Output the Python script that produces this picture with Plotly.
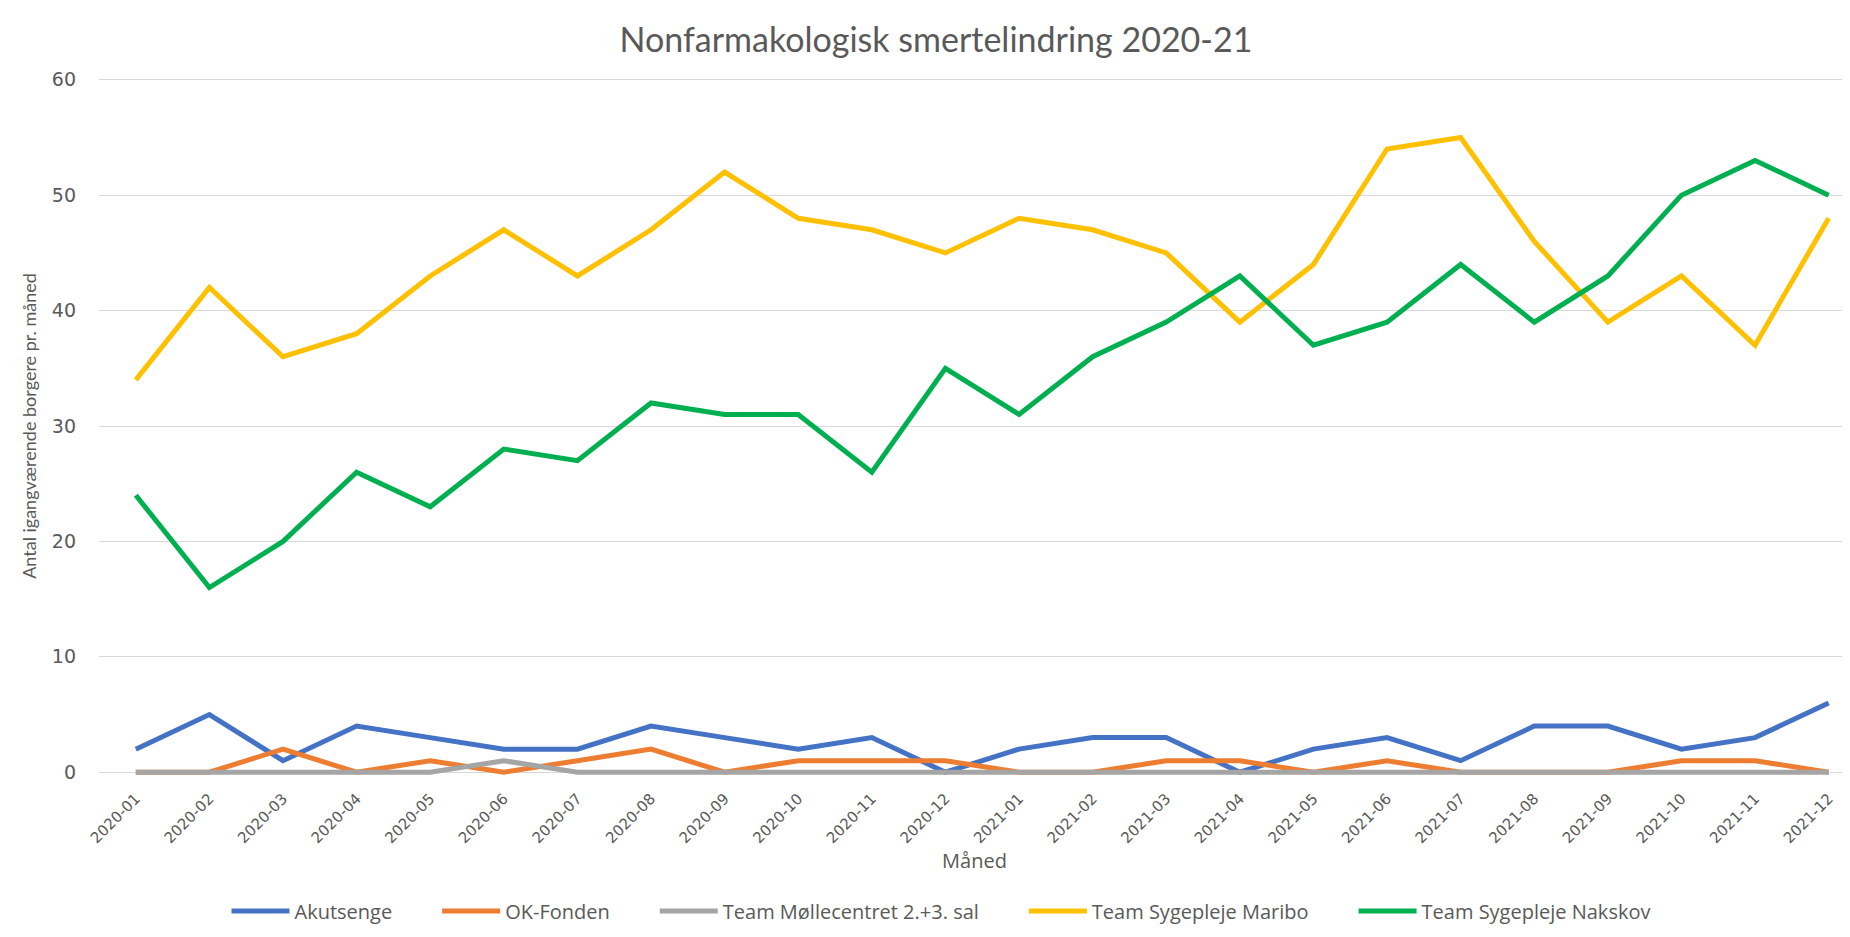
import plotly.graph_objects as go

months = ["2020-01","2020-02","2020-03","2020-04","2020-05","2020-06","2020-07","2020-08",
          "2020-09","2020-10","2020-11","2020-12","2021-01","2021-02","2021-03","2021-04",
          "2021-05","2021-06","2021-07","2021-08","2021-09","2021-10","2021-11","2021-12"]

akutsenge = [2,5,1,4,3,2,2,4,3,2,3,0,2,3,3,0,2,3,1,4,4,2,3,6]
ok_fonden = [0,0,2,0,1,0,1,2,0,1,1,1,0,0,1,1,0,1,0,0,0,1,1,0]
moellecentret = [0,0,0,0,0,1,0,0,0,0,0,0,0,0,0,0,0,0,0,0,0,0,0,0]
maribo = [34,42,36,38,43,47,43,47,52,48,47,45,48,47,45,39,44,54,55,46,39,43,37,48]
nakskov = [24,16,20,26,23,28,27,32,31,31,26,35,31,36,39,43,37,39,44,39,43,50,53,50]

series_names = ["Akutsenge", "OK-Fonden", "Team Møllecentret 2.+3. sal",
                "Team Sygepleje Maribo", "Team Sygepleje Nakskov"]
series_values = [akutsenge, ok_fonden, moellecentret, maribo, nakskov]
colors = ["#4472C4", "#ED7D31", "#A5A5A5", "#FFC000", "#00B050"]

fig = go.Figure()
n = len(series_names)
for i, (name, vals, col) in enumerate(zip(series_names, series_values, colors)):
    label = name if i == n - 1 else name + "\u2003\u2003"
    fig.add_trace(go.Scatter(x=months, y=vals, name=label, mode="lines",
                             line=dict(color=col, width=5)))

W, H = 1842, 929
grey = "#595959"
fig.update_layout(
    width=W, height=H,
    paper_bgcolor="white", plot_bgcolor="white",
    margin=dict(l=91, r=0, t=66, b=159),
    title=dict(text="Nonfarmakologisk smertelindring 2020-21",
               font=dict(family="Lato", size=34, color=grey),
               x=928 / W, xref="container", xanchor="center",
               y=1 - 32 / H, yanchor="middle"),
    legend=dict(orientation="h", xref="container", yref="container",
                x=933 / W, xanchor="center", y=1 - 903 / H, yanchor="middle",
                font=dict(family="Open Sans", size=20, color=grey),
                itemwidth=58),
    showlegend=True,
)
fig.update_xaxes(
    type="category", range=[-0.5, 23.29], automargin=False,
    tickangle=-45, tickfont=dict(family="DejaVu Sans", size=15, color=grey),
    ticklabelstandoff=8,
    showgrid=False, showline=False, zeroline=False,
    title=dict(text="Måned", font=dict(family="Open Sans", size=20, color=grey), standoff=0),
)
fig.update_yaxes(
    range=[-0.5, 60.5], tickvals=[0,10,20,30,40,50,60], automargin=False,
    gridcolor="#D9D9D9", gridwidth=1, zeroline=False, showline=False,
    tickfont=dict(family="DejaVu Sans", size=19, color=grey),
    ticklabelstandoff=22,
    title=dict(text="Antal igangværende borgere pr. måned",
               font=dict(family="Lato", size=18, color=grey), standoff=10),
)
fig.write_html("out.html")
